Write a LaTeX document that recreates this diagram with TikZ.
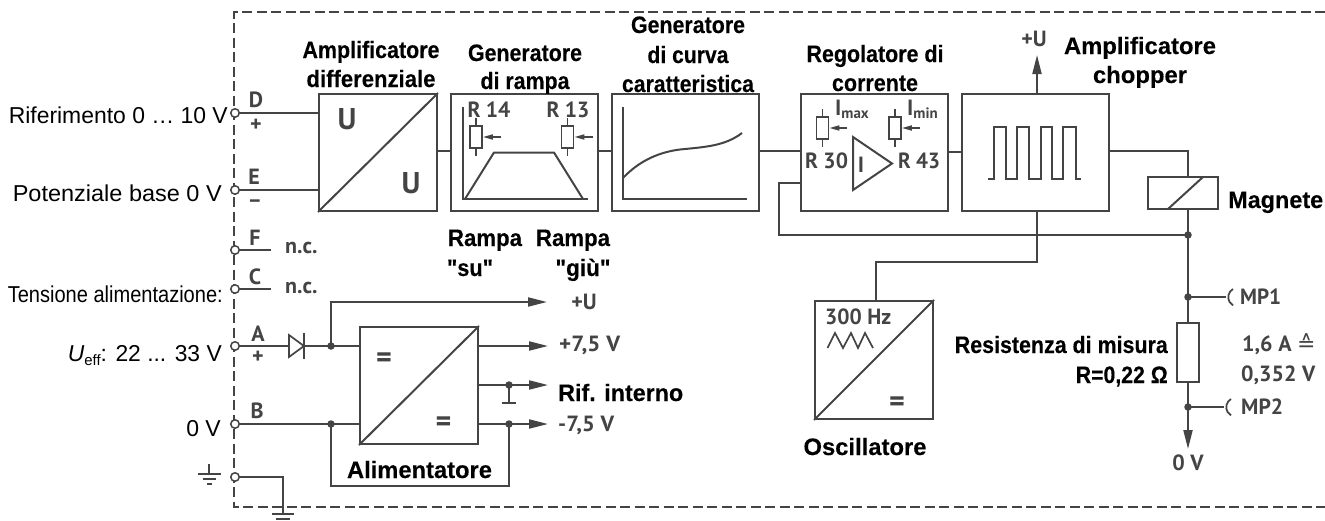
\documentclass[tikz,border=0pt]{standalone}
\usepackage{fontspec}
\usepackage{graphicx}
\usetikzlibrary{arrows.meta,calc}
\setmainfont{Liberation Sans}[Ligatures=TeXOff,BoldFeatures={FakeBold=0.25}]
\newfontfamily\gfont{PT Sans}[BoldFont={PT Sans Bold}]
\newfontfamily\djv{DejaVu Sans}
\definecolor{ink}{HTML}{444444}
\newcommand{\fitw}[2]{\resizebox{#1pt}{\height}{#2}}
\newcommand{\fith}[2]{\resizebox{#1pt}{1.08\height}{#2}}
\tikzset{
  wire/.style={draw=ink,line width=2pt},
  frameline/.style={draw=ink,line width=2pt,dash pattern=on 10pt off 4.5pt},
  blockbox/.style={draw=ink,line width=2pt,rectangle,inner sep=0pt,fill=none},
  term/.style={circle,draw=ink,line width=1.5pt,fill=white,minimum size=8.5pt,inner sep=0pt},
  dotn/.style={circle,fill=ink,minimum size=7.5pt,inner sep=0pt},
  head/.style={-{Triangle[length=19pt,width=9pt]}},
  shead/.style={-{Triangle[length=10pt,width=5pt]}},
  bl/.style={anchor=base,inner sep=0pt,font=\bfseries\fontsize{22}{24}\selectfont,text=black},
  bll/.style={bl,anchor=base west},
  blr/.style={bl,anchor=base east},
  reg/.style={anchor=base east,inner sep=0pt,font=\fontsize{23}{24}\selectfont,text=black},
  gr/.style={anchor=base,inner sep=0pt,font=\gfont\bfseries\fontsize{22}{24}\selectfont,text=ink},
  grl/.style={gr,anchor=base west},
  big/.style={anchor=base,inner sep=0pt,font=\gfont\bfseries\fontsize{30}{32}\selectfont,text=ink},
}
\begin{document}
\begin{tikzpicture}[x=1pt,y=-1pt]
\useasboundingbox (0,0) rectangle (1325,520);
% frame
\draw[frameline] (1325,12) -- (234,12) -- (234,507) -- (1325,507);
% boxes
\node[blockbox,minimum width=118pt,minimum height=117pt] (amp) at (378,152.5) {};
\node[blockbox,minimum width=147pt,minimum height=117pt] (ramp) at (524.5,152.5) {};
\node[blockbox,minimum width=147pt,minimum height=117pt] (curve) at (685.5,152.5) {};
\node[blockbox,minimum width=147pt,minimum height=117pt] (regbox) at (874.5,152.5) {};
\node[blockbox,minimum width=147pt,minimum height=117pt] (chop) at (1035.5,152.5) {};
\node[blockbox,minimum width=70pt,minimum height=32pt] (mag) at (1183,193) {};
\node[blockbox,minimum width=118pt,minimum height=117pt] (psu) at (419,385.5) {};
\node[blockbox,minimum width=118pt,minimum height=118pt] (osc) at (874,360) {};
\node[blockbox,minimum width=22pt,minimum height=59pt] (shunt) at (1188,352.5) {};
% diagonals
\draw[wire] (amp.south west) -- (amp.north east);
\draw[wire] (psu.south west) -- (psu.north east);
\draw[wire] (osc.south west) -- (osc.north east);
\draw[wire] (1168,209) -- (1203,177);
% terminals
\coordinate (Fend) at (271,250);
\coordinate (Cend) at (271,289);
\node[term] (tD) at (235,113) {};
\node[term] (tE) at (235,190) {};
\node[term] (tF) at (235,250) {};
\node[term] (tC) at (235,289) {};
\node[term] (tA) at (235,346) {};
\node[term] (tB) at (235,424) {};
\node[term] (tG) at (235,477) {};
\draw[wire] (tD) -- (tD -| amp.west);
\draw[wire] (tE) -- (tE -| amp.west);
\draw[wire] (tF) -- (Fend);
\draw[wire] (tC) -- (Cend);
% chain
\draw[wire] (437,151) -- (ramp.west |- 0,151);
\draw[wire] (ramp.east |- 0,151) -- (curve.west |- 0,151);
\draw[wire] (curve.east |- 0,151) -- (regbox.west |- 0,151);
\draw[wire] (regbox.east |- 0,152) -- (chop.west |- 0,152);
% chopper output
\draw[wire] (chop.east |- 0,151) -- (1188,151) -- (1188,177);
\node[dotn] (fbdot) at (1188,235) {};
\draw[wire] (1188,209) -- (fbdot.center);
\draw[wire] (regbox.west |- 0,183) -- (779,183) -- (779,235) -- (fbdot.center);
% +U
\coordinate (plusUtip) at (1037,55);
\draw[wire,head] (chop.north -| plusUtip) -- (plusUtip);
% chopper -> oscillator
\draw[wire] (chop.south -| plusUtip) -- (1037,262) -- (876,262) -- (876,301);
% measuring branch
\node[dotn] (mp1d) at (1188,297) {};
\node[dotn] (mp2d) at (1188,407) {};
\coordinate (mp1e) at (1226,297);
\coordinate (mp2e) at (1224,407);
\coordinate (zerotip) at (1188,449);
\draw[wire] (fbdot.center) -- (shunt.north);
\draw[wire] (shunt.south) -- (mp2d.center);
\draw[wire,head] (mp2d.center) -- (zerotip);
\draw[wire] (mp1d.center) -- (mp1e);
\draw[wire] (mp2d.center) -- (mp2e);
\draw[wire,line width=1.7pt] (1233,289) arc[start angle=120,end angle=240,radius=9.5pt];
\draw[wire,line width=1.7pt] (1231,399) arc[start angle=120,end angle=240,radius=9.5pt];
% supply
\node[dotn] (Adot) at (331,346) {};
\node[dotn] (Bdot) at (331,424) {};
\node[dotn] (refdot) at (509,385) {};
\node[dotn] (negdot) at (509,424) {};
\coordinate (tipU) at (547,302);
\coordinate (tipP) at (548,346);
\coordinate (tipR) at (548,385);
\coordinate (tipN) at (548,424);
\draw[wire] (tA) -- (psu.west |- tA);
\draw[wire] (tB) -- (psu.west |- tB);
\draw[wire,line width=1.7pt,fill=white] (289,335) -- (304,346) -- (289,357) -- cycle;
\draw[wire] (304,333) -- (304,359);
\draw[wire,head] (Adot.center) -- (331,302) -- (tipU);
\draw[wire,head] (psu.east |- tipP) -- (tipP);
\draw[wire,head] (psu.east |- tipR) -- (tipR);
\draw[wire,head] (psu.east |- tipN) -- (tipN);
\draw[wire] (refdot.center) -- (509,403);
\draw[wire] (502,403) -- (516,403);
\draw[wire] (negdot.center) -- (509,486) -- (331,486) -- (Bdot.center);
% ground
\draw[wire] (tG) -- (283,477) -- (283,514);
\draw[wire] (272,514) -- (294,514);
\draw[wire] (276,519) -- (290,519);
\draw[wire] (209,464) -- (209,474);
\draw[wire] (198,474) -- (221,474);
\draw[wire] (203,479) -- (216,479);
\draw[wire] (207,484) -- (212,484);
% ramp drawing
\draw[wire] (463,107) -- (463,199) -- (588,199);
\draw[wire] (465,199) -- (494,152.5) -- (554,152.5) -- (583,199);
\node[blockbox,line width=1.7pt,minimum width=12pt,minimum height=22pt] (r14) at (476,137) {};
\node[blockbox,line width=1.7pt,minimum width=12pt,minimum height=22pt] (r13) at (567.5,137) {};
\draw[wire,line width=1.7pt] (476,118) -- (r14.north) (r14.south) -- (476,156);
\draw[wire,line width=1.7pt] (567.5,118) -- (r13.north) (r13.south) -- (567.5,156);
\draw[wire,line width=1.7pt,shead] (501,137) -- (r14.east);
\draw[wire,line width=1.7pt,shead] (593,137) -- (r13.east);
% curve drawing
\draw[wire] (623,107) -- (623,199) -- (747,199);
\draw[wire] (623,178) .. controls (640,160) and (660,152) .. (680,149.5) .. controls (705,147) and (725,146) .. (742,133);
% regulator drawing
\node[blockbox,line width=1.7pt,minimum width=12pt,minimum height=22pt] (r30) at (822.5,128) {};
\node[blockbox,line width=1.7pt,minimum width=12pt,minimum height=22pt] (r43) at (895,128) {};
\draw[wire,line width=1.7pt] (822.5,109) -- (r30.north) (r30.south) -- (822.5,147);
\draw[wire,line width=1.7pt] (895,109) -- (r43.north) (r43.south) -- (895,147);
\draw[wire,line width=1.7pt,shead] (847,128) -- (r30.east);
\draw[wire,line width=1.7pt,shead] (920,128) -- (r43.east);
\draw[wire,line join=miter] (853,137) -- (892,163.5) -- (853,190) -- cycle;
% square wave
\draw[wire] (988,179) -- (994,179) -- (994,127) -- (1006,127) -- (1006,179) -- (1017,179) -- (1017,127) -- (1029,127) -- (1029,179) -- (1041,179) -- (1041,127) -- (1052,127) -- (1052,179) -- (1063,179) -- (1063,127) -- (1076,127) -- (1076,179) -- (1081,179);
% triangle wave
\draw[wire,line width=1.7pt] (827.5,348) -- (835,333) -- (843,348) -- (851,333) -- (858,348) -- (865,333) -- (873,348);
% big U
\node[big] (u1) at (347,129) {U};
\node[big] (u2) at (411,193) {U};
% equals
\node[big] (eq1) at (384,367) {=};
\node[big] (eq2) at (443.5,431) {=};
\node[big] (eq3) at (897,411) {=};
% black labels
\node[bl] (l1) at (371,58) {\fith{137}{Amplificatore}};
\node[bl] (l2) at (371,87) {\fith{129}{differenziale}};
\node[bl] (l3) at (525,61) {\fith{114}{Generatore}};
\node[bl] (l4) at (525,89) {\fith{89}{di rampa}};
\node[bl] (l5) at (688,33) {\fith{114}{Generatore}};
\node[bl] (l6) at (688,63) {\fith{81}{di curva}};
\node[bl] (l7) at (688,92) {\fith{132}{caratteristica}};
\node[bl] (l8) at (875,62) {\fith{137}{Regolatore di}};
\node[bl] (l9) at (875,91) {\fith{86}{corrente}};
\node[bl] (l10) at (1140,54) {\fith{152}{Amplificatore}};
\node[bl] (l11) at (1140,83) {\fith{94}{chopper}};
\node[bll] (l12) at (1228,208) {\fith{95}{Magnete}};
\node[bl] (l13) at (485,246) {\fith{74}{Rampa}};
\node[bl] (l14) at (470,276) {\fith{46}{"su"}};
\node[bl] (l15) at (573,246) {\fith{74}{Rampa}};
\node[bl] (l16) at (583,276) {\fith{55}{"giù"}};
\node[bll] (l17) at (558,401) {\fith{125}{Rif. interno}};
\node[bl] (l18) at (419.5,478) {\fith{145}{Alimentatore}};
\node[bl] (l19) at (865,455) {\fith{123}{Oscillatore}};
\node[blr] (l20) at (1168,353) {\fith{213}{Resistenza di misura}};
\node[blr] (l21) at (1168,383) {\fith{92}{R=0,22 Ω}};
% left labels
\node[reg] (t1) at (228,123) {\fitw{219}{Riferimento 0 … 10 V}};
\node[reg] (t2) at (222,201) {\fitw{209}{Potenziale base 0 V}};
\node[reg] (t3) at (223,302) {\fitw{215}{Tensione alimentazione:}};
\node[reg] (t4) at (222,361) {\fitw{154}{\textit{U}\raisebox{-4pt}{\fontsize{15}{16}\selectfont eff}: 22 ... 33 V}};
\node[reg] (t5) at (221,436) {0 V};
% grey labels
\node[gr] (gD) at (256,107) {D};
\node[gr] (gDp) at (256,131) {+};
\node[gr] (gE) at (254,184) {E};
\node[gr] (gEm) at (255,208) {−};
\node[gr] (gF) at (255,245) {F};
\node[grl] (gFn) at (285,253) {n.c.};
\node[gr] (gC) at (255,284) {C};
\node[grl] (gCn) at (285,293) {n.c.};
\node[gr] (gA) at (258,341) {A};
\node[gr] (gAp) at (258,363) {+};
\node[gr] (gB) at (257,418) {B};
\node[gr] (gr14) at (489,117) {\fitw{43}{R 14}};
\node[gr] (gr13) at (568,117) {\fitw{43}{R 13}};
\node[gr] (gr30) at (826.5,168) {\fitw{43}{R 30}};
\node[gr] (gr43) at (919,168) {\fitw{42}{R 43}};
\node[gr] (gI) at (861,172) {I};
\node[grl] (gImax) at (835,115) {I\raisebox{-3pt}{\fontsize{15}{16}\selectfont max}};
\node[grl] (gImin) at (907,115) {I\raisebox{-3pt}{\fontsize{15}{16}\selectfont min}};
\node[gr] (gUt) at (1034,46) {+U};
\node[gr] (gUb) at (584,309) {+U};
\node[grl] (gP) at (559,351) {\fitw{61}{+7,5 V}};
\node[grl] (gN) at (558,431) {\fitw{56}{-7,5 V}};
\node[grl] (g300) at (825,324) {\fitw{66}{300 Hz}};
\node[grl] (gMP1) at (1240,304) {\fitw{41}{MP1}};
\node[grl] (gMP2) at (1241,414) {\fitw{42}{MP2}};
\node[grl] (g16) at (1242,351) {1,6 A {\djv\mdseries\fontsize{22}{24}\selectfont ≙}};
\node[grl] (g352) at (1241,381) {\fitw{74}{0,352 V}};
\node[gr] (g0) at (1188,470) {0 V};
\end{tikzpicture}
\end{document}
